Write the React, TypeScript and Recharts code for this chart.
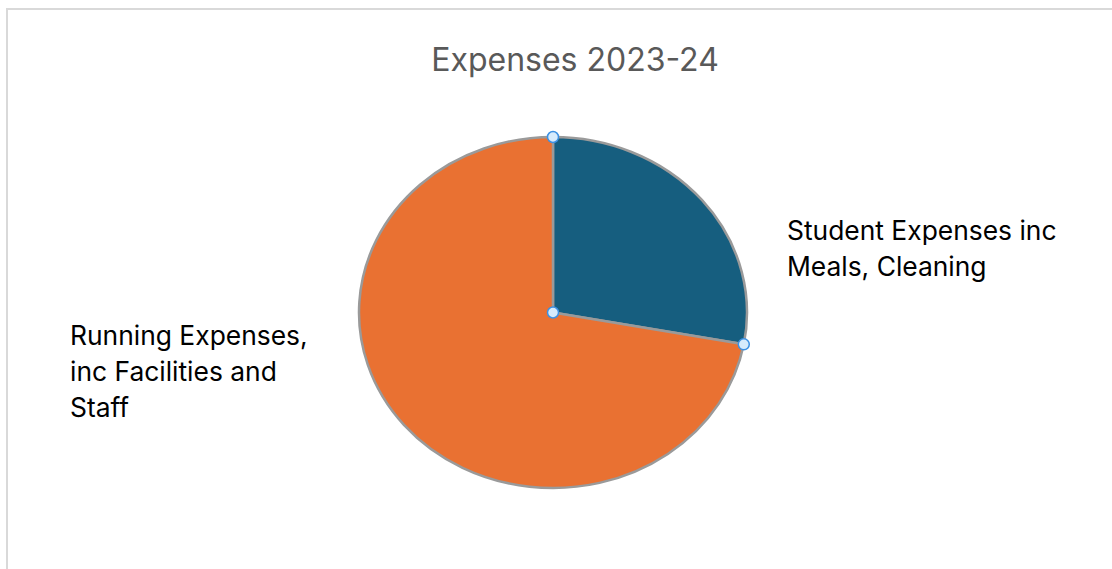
import { PieChart, Pie, Cell } from "recharts";

const categories = [
  "Student Expenses inc Meals, Cleaning",
  "Running Expenses, inc Facilities and Staff",
];
const shares = [27.9, 72.1];
const labelLines = [
  ["Student Expenses inc", "Meals, Cleaning"],
  ["Running Expenses,", "inc Facilities and", "Staff"],
];
const colors = ["#165E7F", "#E97132"];

const RAD = Math.PI / 180;
const STRETCH = 194 / 175.5;

const data = categories.map((name, idx) => ({ name, value: shares[idx], idx }));

const pt = (cx: number, cy: number, r: number, a: number) => [
  cx + r * STRETCH * Math.cos(-a * RAD),
  cy + r * Math.sin(-a * RAD),
];

// sector drawn as an ellipse slice, the original chart is a bit wider than tall
const EllipseSector = (props: any) => {
  const { cx, cy, outerRadius, startAngle, endAngle, fill } = props;
  const [x1, y1] = pt(cx, cy, outerRadius, startAngle);
  const [x2, y2] = pt(cx, cy, outerRadius, endAngle);
  const large = Math.abs(startAngle - endAngle) > 180 ? 1 : 0;
  const d = `M${cx},${cy} L${x1},${y1} A${outerRadius * STRETCH},${outerRadius} 0 ${large} 1 ${x2},${y2} Z`;
  return <path d={d} fill={fill} stroke="#9a9a9a" strokeWidth={2.5} strokeLinejoin="round" />;
};

const Handle = ({ x, y }: { x: number; y: number }) => (
  <circle cx={x} cy={y} r={5.5} fill="#d6ebfc" stroke="#3d91e3" strokeWidth={1.5} />
);

const renderLabel = (props: any) => {
  const { cx, cy, outerRadius, index, startAngle, endAngle } = props;
  const lines = labelLines[index];
  const x = index === 0 ? cx + 234 : cx - 483;
  const y0 = index === 0 ? cy - 73 : cy + 32;
  const [sx, sy] = pt(cx, cy, outerRadius, startAngle);
  const [ex, ey] = pt(cx, cy, outerRadius, endAngle);
  return (
    <g key={`lbl-${index}`}>
      <text x={x} y={y0} fill="#000" fontSize={26.4} fontFamily="Inter, 'Noto Sans', sans-serif">
        {lines.map((l, i) => (
          <tspan key={i} x={x} y={y0 + i * 36}>
            {l}
          </tspan>
        ))}
      </text>
      {index === 0 && (
        <g>
          <Handle x={sx} y={sy} />
          <Handle x={cx} y={cy} />
          <Handle x={ex} y={ey} />
        </g>
      )}
    </g>
  );
};

export default function App() {
  return (
    <div style={{ position: "absolute", left: 0, top: 0, width: 1112, height: 569, overflow: "hidden", background: "#fff" }}>
      <div
        style={{
          position: "absolute",
          left: 6,
          top: 8,
          width: 1120,
          height: 600,
          borderLeft: "2px solid #d9d9d9",
          borderTop: "2px solid #d9d9d9",
        }}
      />
      <div
        style={{
          position: "absolute",
          left: 0,
          top: 40,
          width: 1150,
          textAlign: "center",
          fontFamily: "Inter, 'Noto Sans', sans-serif",
          fontSize: 32,
          lineHeight: "40px",
          color: "#595959",
        }}
      >
        Expenses 2023-24
      </div>
      <div style={{ position: "absolute", left: 0, top: 0 }}>
        <PieChart width={1112} height={569} margin={{ top: 0, right: 0, bottom: 0, left: 0 }}>
          <Pie
            data={data}
            dataKey="value"
            nameKey="name"
            cx={553}
            cy={312.5}
            outerRadius={175.5}
            startAngle={90}
            endAngle={-270}
            shape={EllipseSector}
            label={renderLabel}
            labelLine={false}
            isAnimationActive={false}
          >
            {data.map((d) => (
              <Cell key={d.name} fill={colors[d.idx]} />
            ))}
          </Pie>
        </PieChart>
      </div>
    </div>
  );
}
